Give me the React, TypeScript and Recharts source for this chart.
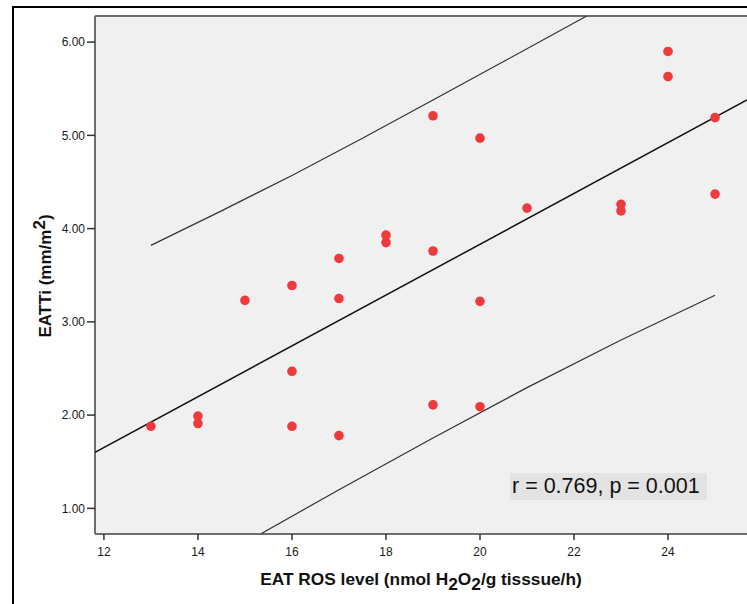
import React from 'react';
import { ScatterChart, Scatter, XAxis, YAxis, CartesianGrid, ReferenceLine, Label } from 'recharts';

// EAT ROS level vs EATTi
const rosLevel = [13, 14, 14, 15, 16, 16, 16, 17, 17, 17, 18, 18, 19, 19, 19, 20, 20, 20, 21, 23, 23, 24, 24, 25, 25];
const eatti = [1.88, 1.99, 1.91, 3.23, 3.39, 2.47, 1.88, 3.68, 3.25, 1.78, 3.93, 3.85, 5.21, 3.76, 2.11, 4.97, 3.22, 2.09, 4.22, 4.26, 4.19, 5.9, 5.63, 5.19, 4.37];

// fit line and prediction bounds
const fitX = [11.81, 25.68];
const fitY = [1.6, 5.38];
const upperX = [13, 14.5, 16, 17.5, 19, 20.57, 22.27];
const upperY = [3.82, 4.19, 4.57, 4.97, 5.38, 5.81, 6.28];
const lowerX = [15.35, 17, 19, 21, 23, 25];
const lowerY = [0.73, 1.2, 1.755, 2.295, 2.805, 3.285];

const xTicks = [12, 14, 16, 18, 20, 22, 24];
const yTicks = [1, 2, 3, 4, 5, 6];
const xDomain = [11.81, 25.68];
const yDomain = [0.725, 6.28];

const statText = 'r = 0.769, p = 0.001';

const toPoints = (xs: number[], ys: number[]) => xs.map((x, i) => ({ x, y: ys[i] }));

const points = toPoints(rosLevel, eatti);
const fitLine = toPoints(fitX, fitY);
const upperLine = toPoints(upperX, upperY);
const lowerLine = toPoints(lowerX, lowerY);

const FONT = '"Liberation Sans", Arial, sans-serif';
const BORDER = '#6e6e6e';

const Dot = (props: any) => <circle cx={props.cx} cy={props.cy} r={4.8} fill="#ef3a3d" />;
const NoDot = () => <g />;

const XTitle = (props: any) => {
  const vb = props.viewBox || { x: 95, y: 534, width: 652 };
  return (
    <text x={vb.x + vb.width / 2} y={vb.y + 51} textAnchor="middle" fontFamily={FONT} fontSize={17.3} fontWeight="bold" fill="#111">
      EAT ROS level (nmol H<tspan dy={5}>2</tspan><tspan dy={-5}>O</tspan><tspan dy={5}>2</tspan><tspan dy={-5}>/g tisssue/h)</tspan>
    </text>
  );
};

const YTitle = (props: any) => {
  const vb = props.viewBox || { y: 16, height: 518 };
  const cy = vb.y + vb.height / 2 + 1;
  return (
    <text x={51} y={cy} transform={`rotate(-90, 51, ${cy})`} textAnchor="middle" fontFamily={FONT} fontSize={17} fontWeight="bold" fill="#111">
      EATTi (mm/m<tspan dy={-6}>2</tspan><tspan dy={6}>)</tspan>
    </text>
  );
};

export default function App() {
  return (
    <div style={{ position: 'absolute', left: 0, top: 0, width: 747, height: 604, overflow: 'hidden', background: '#fff', fontFamily: FONT }}>
      <div style={{ position: 'absolute', left: 12, top: 6, width: 800, height: 700, border: '2px solid #000' }} />
      <div style={{ position: 'absolute', left: 0, top: 0 }}>
        <ScatterChart width={747} height={604} margin={{ top: 16, right: 0, bottom: 0, left: 0 }}>
          <CartesianGrid fill="#f0f0f0" horizontal={false} vertical={false} />
          <XAxis
            type="number"
            dataKey="x"
            domain={xDomain}
            ticks={xTicks}
            allowDataOverflow
            height={70}
            tickSize={6}
            tickMargin={7}
            tick={{ fill: '#1a1a1a', fontSize: 12, fontFamily: FONT }}
            tickLine={{ stroke: '#333', strokeWidth: 1.5 }}
            axisLine={{ stroke: BORDER, strokeWidth: 2 }}
          >
            <Label content={XTitle} />
          </XAxis>
          <YAxis
            type="number"
            dataKey="y"
            domain={yDomain}
            ticks={yTicks}
            allowDataOverflow
            width={95}
            tickSize={8}
            tickMargin={2}
            tickFormatter={(v: number) => v.toFixed(2)}
            tick={{ fill: '#1a1a1a', fontSize: 12, fontFamily: FONT }}
            tickLine={{ stroke: '#333', strokeWidth: 1.5 }}
            axisLine={{ stroke: BORDER, strokeWidth: 2 }}
          >
            <Label content={YTitle} />
          </YAxis>
          <ReferenceLine y={yDomain[1]} stroke={BORDER} strokeWidth={2} />
          <Scatter data={upperLine} line={{ stroke: '#333', strokeWidth: 1.2 }} lineType="joint" shape={NoDot} isAnimationActive={false} />
          <Scatter data={lowerLine} line={{ stroke: '#333', strokeWidth: 1.2 }} lineType="joint" shape={NoDot} isAnimationActive={false} />
          <Scatter data={fitLine} line={{ stroke: '#111', strokeWidth: 1.5 }} lineType="joint" shape={NoDot} isAnimationActive={false} />
          <Scatter data={points} shape={Dot} isAnimationActive={false} />
        </ScatterChart>
      </div>
      <div
        style={{
          position: 'absolute',
          left: 510,
          top: 473,
          width: 197,
          height: 27,
          background: '#e3e3e3',
          fontSize: 21.5,
          lineHeight: '27px',
          color: '#111',
          paddingLeft: 2,
          boxSizing: 'border-box',
          whiteSpace: 'nowrap',
        }}
      >
        {statText}
      </div>
    </div>
  );
}
